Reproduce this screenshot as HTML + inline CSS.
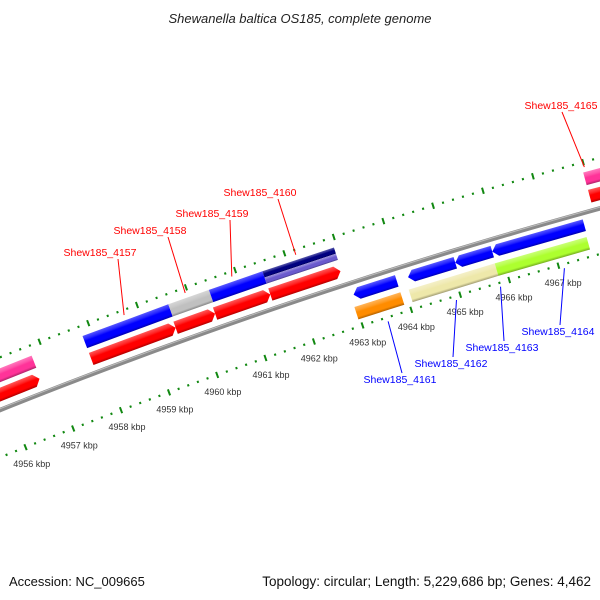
<!DOCTYPE html>
<html><head><meta charset="utf-8"><style>
html,body{margin:0;padding:0;background:#fff}
svg{display:block}
text{font-family:"Liberation Sans",sans-serif}
</style></head><body>
<svg id="map" width="600" height="600" viewBox="0 0 600 600" xmlns="http://www.w3.org/2000/svg">
<defs id="defs"></defs>
<text x="300" y="23" text-anchor="middle" font-size="13" font-style="italic" fill="#222">Shewanella baltica OS185, complete genome</text>
<g id="g"></g>
<text x="9" y="586" font-size="13" fill="#111">Accession: NC_009665</text>
<text x="591" y="586" font-size="13.5" fill="#111" text-anchor="end">Topology: circular; Length: 5,229,686 bp; Genes: 4,462</text>
</svg>
<script>
// data (kbp)
const geneStarts = [4955.0, 4957.81, 4959.55, 4960.36, 4961.49, 4967.95, 4955.0, 4957.81, 4959.57, 4960.40, 4961.49, 4961.49, 4967.95, 4963.02, 4964.13, 4965.09, 4965.84, 4962.96, 4964.07, 4965.82];
const geneEnds   = [4956.74, 4959.55, 4960.36, 4961.49, 4962.92, 4969.5, 4956.76, 4959.57, 4960.40, 4961.49, 4962.94, 4962.94, 4969.5, 4963.90, 4965.09, 4965.84, 4967.70, 4963.90, 4965.82, 4967.68];
const geneTracks = ["fr","fr","fr","fr","fr","fr","fo","fo","fo","fo","fn","fs","fo","rb","rb","rb","rb","ro","ro","ro"];
const geneColors = ["#ff0000","#ff0000","#ff0000","#ff0000","#ff0000","#ff0000","#ff3399","#0000ff","#c0c0c0","#0000ff","#000080","#6a5acd","#ff3399","#0000ff","#0000ff","#0000ff","#0000ff","#ff8c00","#eee8aa","#adff2f"];
const fwdLabels = ["Shew185_4157","Shew185_4158","Shew185_4159","Shew185_4160","Shew185_4165"];
const fwdLabelPos = [4958.7, 4959.95, 4960.9, 4962.2, 4968.0];
const revLabels = ["Shew185_4161","Shew185_4162","Shew185_4163","Shew185_4164"];
const revLabelPos = [4963.5, 4964.9, 4965.8, 4967.1];
const tickKbp = [4956,4957,4958,4959,4960,4961,4962,4963,4964,4965,4966,4967];

const R=5600, CX=2081, CY=5609;
const TH0=Math.atan2(300-CX, CY-300);
const PXK=51.6;
function th(k){return TH0+(k-4962)*PXK/R;}
function pt(k,d){const t=th(k);return [CX+(R+d)*Math.sin(t), CY-(R+d)*Math.cos(t)];}
const NS="http://www.w3.org/2000/svg";
const g=document.getElementById('g'), defs=document.getElementById('defs');
function mk(tag,attrs,parent){const e=document.createElementNS(NS,tag);for(const a in attrs)e.setAttribute(a,attrs[a]);(parent||g).appendChild(e);return e;}
function P(a){return a[0].toFixed(2)+','+a[1].toFixed(2);}
function shade(hex,f){let n=parseInt(hex.slice(1),16),r=n>>16,gg=(n>>8)&255,b=n&255;
 if(f>0){r+=(255-r)*f;gg+=(255-gg)*f;b+=(255-b)*f;}else{r*=1+f;gg*=1+f;b*=1+f;}
 return 'rgb('+Math.round(r)+','+Math.round(gg)+','+Math.round(b)+')';}
const tracks={fr:[8,21,1],fo:[26,39,0],fn:[32.5,39,0],fs:[26,32.5,0],rb:[-18,-6,-1],ro:[-37,-24,0]};

// backbone
let bb=[];for(let k=4954;k<=4970;k+=0.5)bb.push(P(pt(k,0)));
const bbl=mk('polyline',{points:bb.join(' '),fill:'none',stroke:'#8a8a8a','stroke-width':4.5});


let bb2=[];for(let k=4954;k<=4970;k+=0.5)bb2.push(P(pt(k,1.2)));
mk('polyline',{points:bb2.join(' '),fill:'none',stroke:'#bdbdbd','stroke-width':1});

// tick rings
function ring(d,name){
 const gr=mk('g',{});
 
 
 for(let i=4954*5;i<=4970*5;i++){const k=i/5;const major=(i%5===0);
  const h=major?3.2:1.1;
  mk('line',{x1:pt(k,d-h)[0],y1:pt(k,d-h)[1],x2:pt(k,d+h)[0],y2:pt(k,d+h)[1],stroke:'#118811','stroke-width':2},gr);}
}
ring(-44,'inner-tick-ring');ring(49,'outer-tick-ring');

// tick labels
tickKbp.forEach(k=>{const p=pt(k,-61);
 const t=mk('text',{x:p[0].toFixed(1),y:(p[1]+4).toFixed(1),'text-anchor':'middle','font-size':9,fill:'#333'});
 t.textContent=k+' kbp';
 
 });

// genes
geneStarts.forEach((s,i)=>{
 const e=geneEnds[i],tr=tracks[geneTracks[i]],c=geneColors[i];
 const lo=tr[0],hi=tr[1],dir=tr[2];const mid=(lo+hi)/2;const aw=5.5/PXK;
 let pts;
 if(dir===1){pts=[pt(s,hi),pt(e-aw,hi),pt(e,mid),pt(e-aw,lo),pt(s,lo)];}
 else if(dir===-1){pts=[pt(s+aw,hi),pt(e,hi),pt(e,lo),pt(s+aw,lo),pt(s,mid)];}
 else pts=[pt(s,hi),pt(e,hi),pt(e,lo),pt(s,lo)];
 const km=(s+e)/2,a=pt(km,hi),b=pt(km,lo);
 const gid='gr'+i;
 const lg=mk('linearGradient',{id:gid,gradientUnits:'userSpaceOnUse',x1:a[0],y1:a[1],x2:b[0],y2:b[1]},defs);
 mk('stop',{offset:'0',['stop-color']:shade(c,0.35)},lg);
 mk('stop',{offset:'0.3',['stop-color']:shade(c,0.15)},lg);
 mk('stop',{offset:'0.45',['stop-color']:c},lg);
 mk('stop',{offset:'0.8',['stop-color']:c},lg);
 mk('stop',{offset:'1',['stop-color']:shade(c,-0.3)},lg);
 const pg=mk('polygon',{points:pts.map(P).join(' '),fill:'url(#'+gid+')'});
 
 
});

// labels
const fwdText=[[100,256],[150,234],[212,217],[260,196],[561,109]];
fwdLabels.forEach((l,i)=>{const k=fwdLabelPos[i];const a=pt(k,44);
 const tp=fwdText[i];
 const ln=mk('line',{x1:tp[0]+(i===4?1:18),y1:tp[1]+3,x2:a[0],y2:a[1],stroke:'#ff0000','stroke-width':1});
 
 
 const t=mk('text',{x:tp[0],y:tp[1],'text-anchor':'middle','font-size':10.5,fill:'#ff0000'});t.textContent=l;
 
 });
const revText=[[400,383],[451,367],[502,351],[558,335]];
revLabels.forEach((l,i)=>{const k=revLabelPos[i];const a=pt(k,-48);const tp=revText[i];
 const ln=mk('line',{x1:a[0],y1:a[1],x2:tp[0]+2,y2:tp[1]-10,stroke:'#0000ff','stroke-width':1});
 
 
 const t=mk('text',{x:tp[0],y:tp[1],'text-anchor':'middle','font-size':10.5,fill:'#0000ff'});t.textContent=l;
 
 });
</script>
</body></html>
